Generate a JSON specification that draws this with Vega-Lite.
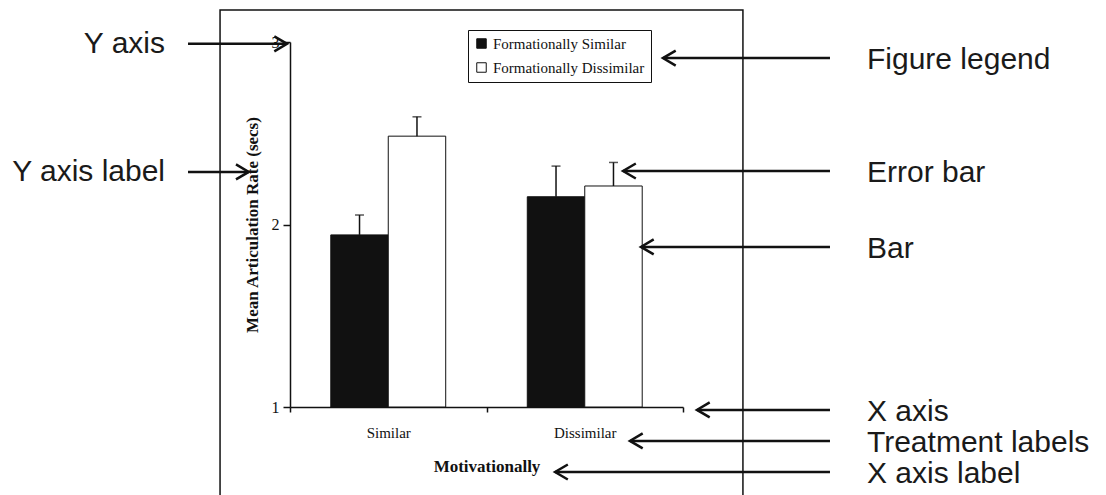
{
  "$schema": "https://vega.github.io/schema/vega-lite/v6.json",
  "width": 393,
  "height": 365,
  "autosize": "none",
  "padding": {"left": 290, "top": 42, "right": 423, "bottom": 88},
  "background": "white",
  "datasets": {
    "bars": [
      {"Motivationally": "Similar", "Form": "Formationally Similar", "Mean": 1.943, "Upper": 2.052},
      {"Motivationally": "Similar", "Form": "Formationally Dissimilar", "Mean": 2.484, "Upper": 2.59},
      {"Motivationally": "Dissimilar", "Form": "Formationally Similar", "Mean": 2.152, "Upper": 2.32},
      {"Motivationally": "Dissimilar", "Form": "Formationally Dissimilar", "Mean": 2.211, "Upper": 2.34}
    ],
    "notes": [
      {"label": "Y axis", "side": "left", "y": 2.99, "tail": -0.519, "tip": -0.015},
      {"label": "Y axis label", "side": "left", "y": 2.288, "tail": -0.519, "tip": -0.21},
      {"label": "Figure legend", "side": "right", "y": 2.912, "tail": 2.748, "tip": 1.898},
      {"label": "Error bar", "side": "right", "y": 2.293, "tail": 2.748, "tip": 1.695},
      {"label": "Bar", "side": "right", "y": 1.877, "tail": 2.748, "tip": 1.786},
      {"label": "X axis", "side": "right", "y": 0.984, "tail": 2.748, "tip": 2.071},
      {"label": "Treatment labels", "side": "right", "y": 0.814, "tail": 2.748, "tip": 1.73},
      {"label": "X axis label", "side": "right", "y": 0.644, "tail": 2.748, "tip": 1.349}
    ],
    "frame": [{"x1": -0.356, "x2": 2.305, "y1": 3.175, "y2": 0.49}]
  },
  "layer": [
    {
      "data": {"name": "bars"},
      "layer": [
        {
          "mark": {"type": "bar", "stroke": "#111111", "strokeWidth": 1},
          "encoding": {
            "x": {
              "field": "Motivationally", "type": "nominal", "sort": ["Similar", "Dissimilar"],
              "scale": {"paddingInner": 0, "paddingOuter": 0},
              "axis": {
                "title": "Motivationally", "labelAngle": 0, "domainColor": "#111111", "domainWidth": 1.5,
                "tickColor": "#111111", "tickWidth": 1.5, "tickSize": 5, "tickBand": "extent",
                "labelFont": "Liberation Serif", "labelFontSize": 15, "labelColor": "#111111", "labelPadding": 13,
                "titleFont": "Liberation Serif", "titleFontSize": 17, "titleFontWeight": "bold", "titleColor": "#111111",
                "titlePadding": 18, "grid": false
              }
            },
            "xOffset": {
              "field": "Form", "type": "nominal", "sort": ["Formationally Similar", "Formationally Dissimilar"],
              "scale": {"paddingInner": 0, "paddingOuter": 0.71}
            },
            "y": {
              "field": "Mean", "type": "quantitative",
              "scale": {"domain": [1, 3], "nice": false, "zero": false},
              "axis": {
                "title": "Mean Articulation Rate (secs)", "tickCount": 2, "labelOverlap": false, "labelFlush": false,
                "domainColor": "#111111", "domainWidth": 1.5, "tickColor": "#111111", "tickWidth": 1.5, "tickSize": 7,
                "labelFont": "Liberation Serif", "labelFontSize": 16, "labelColor": "#111111", "labelPadding": 4,
                "titleFont": "Liberation Serif", "titleFontSize": 17, "titleFontWeight": "bold", "titleColor": "#111111",
                "titlePadding": 10, "grid": false
              }
            },
            "y2": {"datum": 1},
            "fill": {
              "field": "Form", "type": "nominal",
              "scale": {"domain": ["Formationally Similar", "Formationally Dissimilar"], "range": ["#111111", "#ffffff"]},
              "legend": {
                "orient": "none", "legendX": 178, "legendY": -12, "title": null,
                "strokeColor": "#111111", "fillColor": "white", "padding": 6,
                "labelFont": "Liberation Serif", "labelFontSize": 15, "labelColor": "#111111",
                "symbolType": "square", "symbolSize": 90, "symbolStrokeColor": "#111111", "symbolStrokeWidth": 1,
                "rowPadding": 8
              }
            }
          }
        },
        {
          "mark": {"type": "rule", "stroke": "#111111", "strokeWidth": 1.5},
          "encoding": {
            "x": {"field": "Motivationally", "type": "nominal", "sort": ["Similar", "Dissimilar"]},
            "xOffset": {"field": "Form", "type": "nominal", "sort": ["Formationally Similar", "Formationally Dissimilar"]},
            "y": {"field": "Mean", "type": "quantitative", "scale": {"domain": [1, 3], "nice": false, "zero": false}},
            "y2": {"field": "Upper"}
          }
        },
        {
          "mark": {"type": "tick", "color": "#111111", "thickness": 1.5, "size": 9, "orient": "horizontal"},
          "encoding": {
            "x": {"field": "Motivationally", "type": "nominal", "sort": ["Similar", "Dissimilar"]},
            "xOffset": {"field": "Form", "type": "nominal", "sort": ["Formationally Similar", "Formationally Dissimilar"]},
            "y": {"field": "Upper", "type": "quantitative", "scale": {"domain": [1, 3], "nice": false, "zero": false}}
          }
        }
      ]
    },
    {
      "layer": [
        {
          "data": {"name": "frame"},
          "mark": {"type": "rect", "fill": null, "stroke": "#111111", "strokeWidth": 1.5},
          "encoding": {
            "x": {"field": "x1", "type": "quantitative", "scale": {"domain": [0, 2], "nice": false, "zero": false}, "axis": null},
            "x2": {"field": "x2"},
            "y": {"field": "y1", "type": "quantitative", "scale": {"domain": [1, 3], "nice": false, "zero": false}, "axis": null},
            "y2": {"field": "y2"}
          }
        },
        {
          "data": {"name": "notes"},
          "mark": {"type": "rule", "stroke": "#111111", "strokeWidth": 2.5},
          "encoding": {
            "x": {"field": "tail", "type": "quantitative", "scale": {"domain": [0, 2], "nice": false, "zero": false}, "axis": null},
            "x2": {"field": "tip"},
            "y": {"field": "y", "type": "quantitative", "scale": {"domain": [1, 3], "nice": false, "zero": false}, "axis": null}
          }
        },
        {
          "data": {"name": "notes"},
          "transform": [{"filter": "datum.side === 'right'"}],
          "mark": {"type": "point", "shape": "M 1.7 -1 L 0 0 L 1.7 1", "size": 225, "filled": false, "stroke": "#111111", "strokeWidth": 2.5, "opacity": 1},
          "encoding": {
            "x": {"field": "tip", "type": "quantitative", "scale": {"domain": [0, 2], "nice": false, "zero": false}, "axis": null},
            "y": {"field": "y", "type": "quantitative", "scale": {"domain": [1, 3], "nice": false, "zero": false}, "axis": null}
          }
        },
        {
          "data": {"name": "notes"},
          "transform": [{"filter": "datum.side === 'left'"}],
          "mark": {"type": "point", "shape": "M -1.7 -1 L 0 0 L -1.7 1", "size": 225, "filled": false, "stroke": "#111111", "strokeWidth": 2.5, "opacity": 1},
          "encoding": {
            "x": {"field": "tip", "type": "quantitative", "scale": {"domain": [0, 2], "nice": false, "zero": false}, "axis": null},
            "y": {"field": "y", "type": "quantitative", "scale": {"domain": [1, 3], "nice": false, "zero": false}, "axis": null}
          }
        },
        {
          "data": {"name": "notes"},
          "transform": [{"filter": "datum.side === 'right'"}],
          "mark": {"type": "text", "align": "left", "baseline": "middle", "dx": 37, "dy": 2, "font": "Liberation Sans", "fontSize": 30, "color": "#1a1a1a"},
          "encoding": {
            "x": {"field": "tail", "type": "quantitative", "scale": {"domain": [0, 2], "nice": false, "zero": false}, "axis": null},
            "y": {"field": "y", "type": "quantitative", "scale": {"domain": [1, 3], "nice": false, "zero": false}, "axis": null},
            "text": {"field": "label"}
          }
        },
        {
          "data": {"name": "notes"},
          "transform": [{"filter": "datum.side === 'left'"}],
          "mark": {"type": "text", "align": "right", "baseline": "middle", "dx": -23, "font": "Liberation Sans", "fontSize": 30, "color": "#1a1a1a"},
          "encoding": {
            "x": {"field": "tail", "type": "quantitative", "scale": {"domain": [0, 2], "nice": false, "zero": false}, "axis": null},
            "y": {"field": "y", "type": "quantitative", "scale": {"domain": [1, 3], "nice": false, "zero": false}, "axis": null},
            "text": {"field": "label"}
          }
        }
      ]
    }
  ],
  "resolve": {"scale": {"x": "independent"}, "axis": {"x": "independent", "y": "independent"}},
  "config": {"view": {"stroke": null}, "font": "Liberation Serif"}
}
